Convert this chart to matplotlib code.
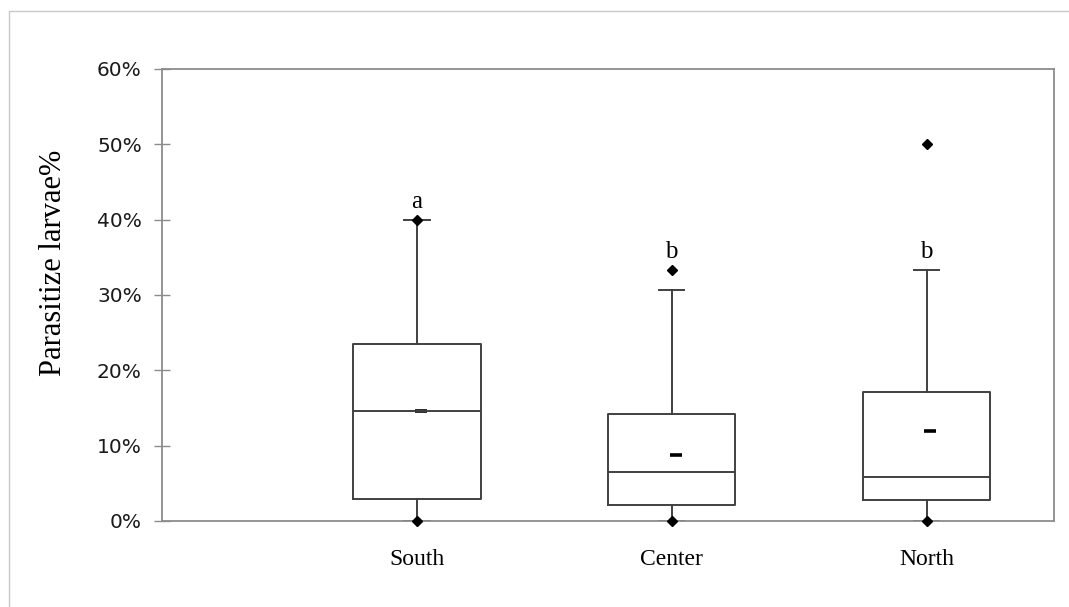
import numpy as np
from matplotlib import pyplot as plt
from matplotlib.patches import Rectangle

# box plot summary per region (fractions of parasitized larvae)
regions = ['South', 'Center', 'North']
q1 = [0.029, 0.021, 0.028]
median = [0.1465, 0.065, 0.058]
q3 = [0.235, 0.142, 0.171]
whisk_lo = [0.0, 0.0, 0.0]
whisk_hi = [0.40, 0.306, 0.333]
mean = [0.1465, 0.088, 0.119]
min_val = [0.0, 0.0, 0.0]
max_val = [0.40, 0.333, 0.50]
letters = ['a', 'b', 'b']

fig = plt.figure(figsize=(10.69, 6.07), dpi=100)
ax = fig.add_axes([162/1069, 1 - 521/607, 892/1069, 452/607])

# thin frame round the whole chart area
fig.patches.append(Rectangle((9/1069, -0.1), 1.2, 1 - 11/607 + 0.1, transform=fig.transFigure,
                             fill=False, edgecolor='#c8c8c8', lw=1.0))

pos = np.arange(1, len(regions) + 1)
stats = []
for i in range(len(regions)):
    stats.append(dict(med=median[i], q1=q1[i], q3=q3[i],
                      whislo=whisk_lo[i], whishi=whisk_hi[i], fliers=[]))

line = dict(color='#404040', lw=1.4)
ax.bxp(stats, positions=pos, widths=0.5, capwidths=0.1, showfliers=False,
       boxprops=line, whiskerprops=line, capprops=line, medianprops=line)

# mean dashes, min/max diamonds
ax.plot(pos + 0.015, mean, ls='none', marker='_', ms=8, mew=2.6, color='black')
ax.plot(pos, max_val, ls='none', marker='D', ms=4.8, color='black', clip_on=False)
ax.plot(pos, min_val, ls='none', marker='D', ms=4.8, color='black', clip_on=False, zorder=5)

# significance letters above the top of each group
tops = [whisk_hi[0], max_val[1], whisk_hi[2]]
for x, t, s in zip(pos, tops, letters):
    ax.text(x, t + 0.009, s, ha='center', va='bottom', fontsize=18, family='Liberation Serif')

ax.set_xlim(0, 3.5)
ax.set_ylim(0, 0.6)
ax.set_yticks(np.arange(0, 0.61, 0.1))
ax.set_yticklabels(['%d%%' % round(v * 100) for v in np.arange(0, 0.61, 0.1)],
                   fontsize=14.5, family='DejaVu Sans', color='#1a1a1a')
ax.set_xticks(pos)
ax.set_xticklabels(regions, fontsize=17, family='Liberation Serif')
ax.tick_params(axis='x', length=0, pad=20)
ax.tick_params(axis='y', direction='inout', length=11, width=1.0, color='#8c8c8c', pad=9)

for sp in ax.spines.values():
    sp.set_color('#8c8c8c')
    sp.set_linewidth(1.3)

ax.set_ylabel('Parasitize larvae%', fontsize=22, family='Liberation Serif', va='center')
ax.yaxis.set_label_coords(-0.122, 0.571)

fig.savefig('out.png', dpi=100)
